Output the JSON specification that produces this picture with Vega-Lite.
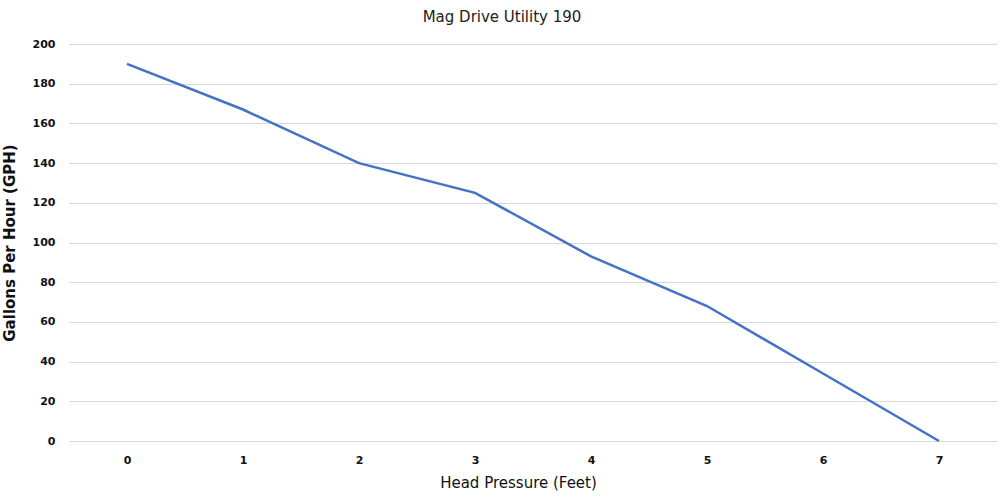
{
  "$schema": "https://vega.github.io/schema/vega-lite/v6.json",
  "width": 928,
  "height": 397,
  "autosize": {"type": "none"},
  "padding": {"left": 69, "top": 44, "right": 7, "bottom": 57},
  "background": "white",
  "title": {
    "text": "Mag Drive Utility 190",
    "font": "DejaVu Sans",
    "fontSize": 15,
    "fontWeight": "normal",
    "color": "#222222",
    "anchor": "middle",
    "dx": -31,
    "offset": 13
  },
  "data": {
    "values": [
      {"feet": "0", "gph": 190},
      {"feet": "1", "gph": 167},
      {"feet": "2", "gph": 140},
      {"feet": "3", "gph": 125},
      {"feet": "4", "gph": 93},
      {"feet": "5", "gph": 68},
      {"feet": "6", "gph": 34},
      {"feet": "7", "gph": 0}
    ]
  },
  "config": {
    "view": {"stroke": null},
    "axis": {
      "labelFont": "DejaVu Sans",
      "labelFontWeight": "bold",
      "labelFontSize": 11,
      "labelColor": "#111111",
      "titleFont": "DejaVu Sans",
      "titleFontSize": 15,
      "titleColor": "#111111",
      "ticks": false,
      "domain": false,
      "gridColor": "#d9d9d9",
      "gridWidth": 1
    }
  },
  "mark": {"type": "line", "color": "#4472C4", "strokeWidth": 2.5},
  "encoding": {
    "x": {
      "field": "feet",
      "type": "ordinal",
      "sort": null,
      "scale": {"type": "point", "padding": 0.5},
      "axis": {
        "title": "Head Pressure (Feet)",
        "titleFontWeight": "normal",
        "labelAngle": 0,
        "labelPadding": 13,
        "grid": false,
        "titlePadding": 10,
        "titleX": 449
      }
    },
    "y": {
      "field": "gph",
      "type": "quantitative",
      "scale": {"domain": [0, 200], "nice": false},
      "axis": {
        "title": "Gallons Per Hour (GPH)",
        "titleFontWeight": "bold",
        "values": [0, 20, 40, 60, 80, 100, 120, 140, 160, 180, 200],
        "labelPadding": 14,
        "titlePadding": 15,
        "grid": true
      }
    }
  }
}
